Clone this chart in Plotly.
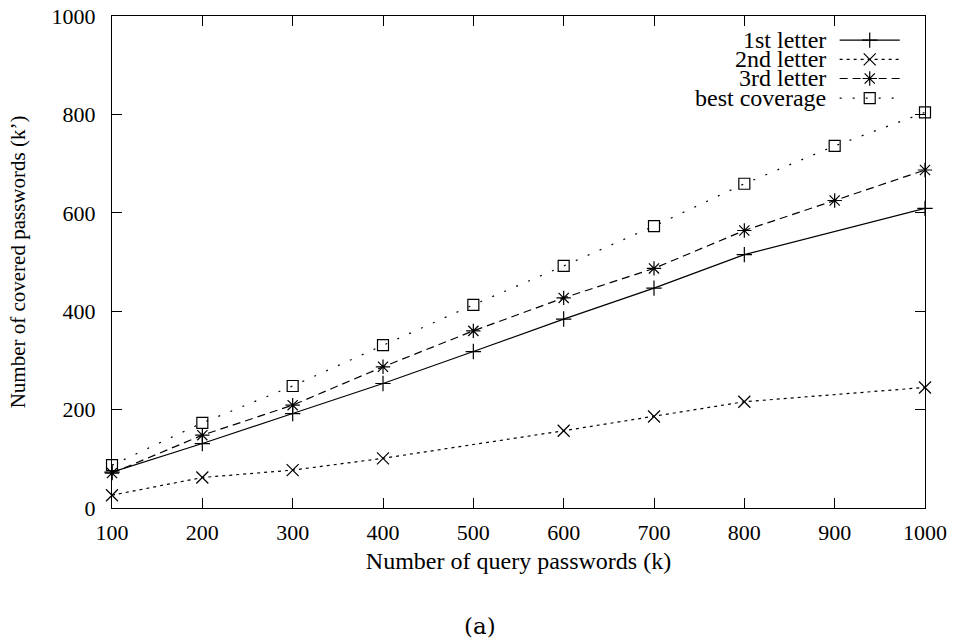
import plotly.graph_objects as go

x_all = [100, 200, 300, 400, 500, 600, 700, 800, 900, 1000]
first_x = [100, 200, 300, 400, 500, 600, 700, 800, 1000]
first_y = [73, 131, 192, 253, 318, 384, 447, 515, 609]
second_x = [100, 200, 300, 400, 600, 700, 800, 1000]
second_y = [26, 62, 77, 101, 157, 186, 216, 245]
third_y = [71, 148, 209, 287, 360, 427, 487, 564, 625, 687]
best_y = [87, 173, 248, 331, 413, 492, 573, 659, 736, 804]

names = ["1st letter", "2nd letter", "3rd letter", "best coverage"]
dashes = ["solid", "3px,4px", "8px,5px", "2px,11px"]
symbols = ["cross-thin-open", "x-thin-open", "asterisk-open", "square-open"]
msizes = [11, 12, 12, 11]
series = [(first_x, first_y), (second_x, second_y), (x_all, third_y), (x_all, best_y)]

FONT = "Liberation Serif"
fig = go.Figure()
for (xs, ys), nm, d, s, ms in zip(series, names, dashes, symbols, msizes):
    fig.add_trace(go.Scatter(
        x=xs, y=ys, mode="lines+markers", name=nm, showlegend=False,
        line=dict(color="black", width=1.2, dash=d),
        marker=dict(symbol=s, size=ms, color="black", line=dict(color="black", width=1.2)),
        cliponaxis=False))

# custom gnuplot-style key (text left, sample right) on an overlay axis
key_rows = [0.951, 0.912, 0.873, 0.833]
key_x0, key_x1, key_xm, key_text = 0.895, 0.969, 0.932, 0.881
for nm, d, s, ms, ky in zip(names, dashes, symbols, msizes, key_rows):
    fig.add_trace(go.Scatter(
        x=[key_x0, key_x1], y=[ky, ky], mode="lines", xaxis="x2", yaxis="y2",
        line=dict(color="black", width=1.2, dash=d), showlegend=False, hoverinfo="skip"))
    fig.add_trace(go.Scatter(
        x=[key_xm], y=[ky], mode="markers", xaxis="x2", yaxis="y2",
        marker=dict(symbol=s, size=ms, color="black", line=dict(color="black", width=1.2)),
        showlegend=False, hoverinfo="skip"))
    fig.add_annotation(x=key_text, y=ky, xref="x2", yref="y2", text=nm, showarrow=False,
                       xanchor="right", yanchor="middle", font=dict(family=FONT, size=24, color="black"))

fig.add_annotation(x=0.453, y=-0.24, xref="paper", yref="paper", text="(a)", showarrow=False,
                   xanchor="center", yanchor="middle", font=dict(family="DejaVu Serif", size=23, color="black"))

fig.update_layout(
    width=955, height=644,
    margin=dict(l=112, r=30, t=16, b=136, autoexpand=False),
    paper_bgcolor="white", plot_bgcolor="white",
    font=dict(family=FONT, size=22, color="black"),
    xaxis=dict(range=[100, 1000], tickvals=x_all, showgrid=False, zeroline=False,
               showline=True, linecolor="black", linewidth=1.2, mirror="allticks",
               ticks="inside", ticklen=10, tickcolor="black", tickwidth=1,
               tickfont=dict(family=FONT, size=22), ticklabelstandoff=4,
               ticklabeloverflow="allow", automargin=False,
               title=dict(text="Number of query passwords (k)", standoff=8,
                          font=dict(family=FONT, size=24))),
    yaxis=dict(range=[0, 1000], tickvals=[0, 200, 400, 600, 800, 1000], showgrid=False,
               zeroline=False, showline=True, linecolor="black", linewidth=1.2,
               mirror="allticks", ticks="inside", ticklen=10, tickcolor="black", tickwidth=1,
               tickfont=dict(family=FONT, size=22), ticklabelstandoff=11,
               ticklabeloverflow="allow", automargin=False,
               title=dict(text="Number of covered passwords (k’)", standoff=20,
                          font=dict(family=FONT, size=21))),
    xaxis2=dict(overlaying="x", range=[0, 1], visible=False, fixedrange=True),
    yaxis2=dict(overlaying="y", range=[0, 1], visible=False, fixedrange=True),
    showlegend=False,
    hovermode=False,
)

fig.write_html("out.html", config={"displayModeBar": False},
               post_script="document.body.style.margin='0px';")
